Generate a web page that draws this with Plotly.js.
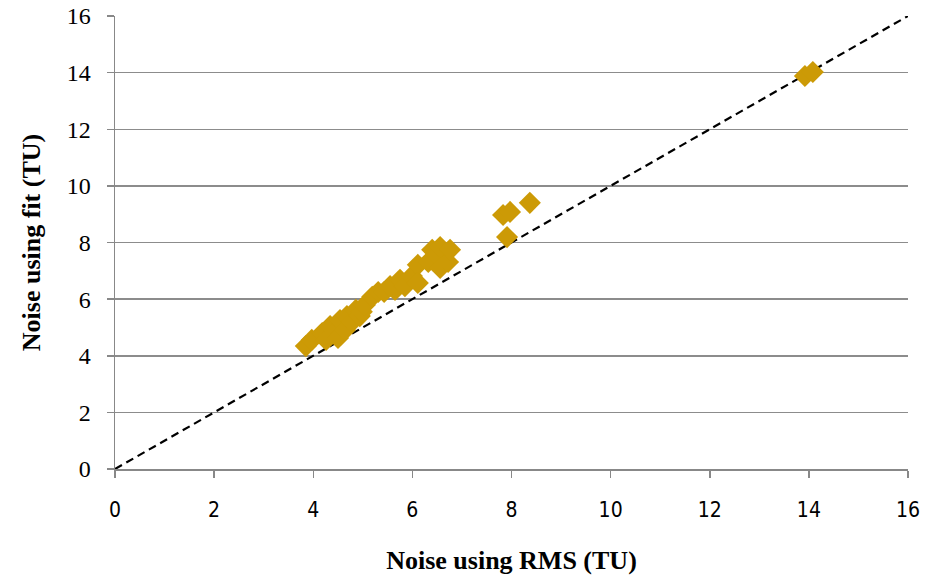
<!DOCTYPE html>
<html>
<head>
<meta charset="utf-8">
<script src="https://cdn.plot.ly/plotly-3.0.1.min.js"></script>
<style>html,body{margin:0;padding:0;background:#fff;}#chart{width:927px;height:577px;}</style>
</head>
<body>
<div id="chart"></div>
<script>
const rmsNoise = [3.85,3.97,4.18,4.26,4.34,4.44,4.50,4.54,4.64,4.68,4.78,4.86,4.94,4.98,5.04,5.19,5.31,5.43,5.55,5.65,5.75,5.85,5.99,6.11,6.11,6.32,6.40,6.48,6.56,6.56,6.72,6.76,7.83,7.97,8.37,7.91,13.92,14.08];
const fitNoise = [4.34,4.56,4.80,4.56,5.05,4.84,4.63,5.26,4.91,5.40,5.19,5.62,5.40,5.55,5.79,6.08,6.25,6.25,6.46,6.32,6.68,6.46,6.82,7.21,6.57,7.31,7.74,7.56,7.84,7.10,7.31,7.74,8.97,9.08,9.40,8.19,13.88,14.02];
const lineX = [0,16];
const lineY = [0,16];
const tickVals = [0,2,4,6,8,10,12,14,16];

const data = [
  {x: lineX, y: lineY, mode: 'lines', type: 'scatter',
   line: {color: '#000', width: 2.2, dash: '8px,5px'}, hoverinfo: 'skip'},
  {x: rmsNoise, y: fitNoise, mode: 'markers', type: 'scatter',
   marker: {symbol: 'diamond', size: 17, color: '#CC9A06', line: {width: 0}}}
];
const layout = {
  width: 927, height: 577,
  margin: {l: 115, r: 19, t: 16, b: 108},
  paper_bgcolor: '#fff', plot_bgcolor: '#fff',
  showlegend: false,
  xaxis: {
    range: [0, 16], tickvals: tickVals, showgrid: false, zeroline: false,
    showline: true, linecolor: '#888', linewidth: 1.5,
    ticks: 'outside', ticklen: 7, tickcolor: '#888', tickwidth: 1.5,
    ticklabelstandoff: 14,
    tickfont: {family: 'DejaVu Sans Condensed', size: 21, color: '#000'},
    title: {text: 'Noise using RMS (TU)', standoff: 30,
      font: {family: 'Liberation Serif', size: 26, color: '#000', weight: 'bold'}}
  },
  yaxis: {
    range: [0, 16], tickvals: tickVals, showgrid: true, gridcolor: '#8c8c8c', gridwidth: 1.5,
    zeroline: false, showline: true, linecolor: '#888', linewidth: 1.5,
    ticks: 'outside', ticklen: 7, tickcolor: '#888', tickwidth: 1.5,
    ticklabelstandoff: 11,
    tickfont: {family: 'Liberation Serif', size: 24, color: '#000'},
    title: {text: 'Noise using fit (TU)', standoff: 18,
      font: {family: 'Liberation Serif', size: 26, color: '#000', weight: 'bold'}}
  }
};
Plotly.newPlot('chart', data, layout, {displayModeBar: false, staticPlot: true});
</script>
</body>
</html>
